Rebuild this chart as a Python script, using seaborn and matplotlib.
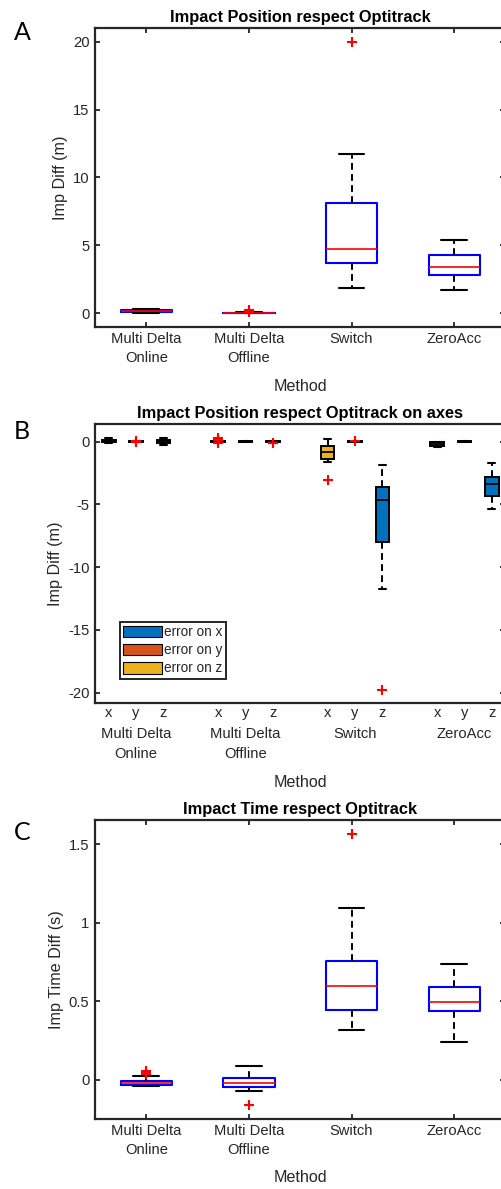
import numpy as np
import matplotlib
matplotlib.use("Agg")
import matplotlib.pyplot as plt
import matplotlib.patches as mpatches
from matplotlib.ticker import FuncFormatter
import seaborn as sns
import pandas as pd

# ---------------------------------------------------------------- data
methods = ["Multi Delta\nOnline", "Multi Delta\nOffline", "Switch", "ZeroAcc"]

# Impact position difference (m)
pos_whislo = [0.00, 0.00, 1.89, 1.74]
pos_q1 = [0.08, 0.00, 3.73, 2.85]
pos_med = [0.16, 0.03, 4.74, 3.41]
pos_q3 = [0.24, 0.06, 8.10, 4.30]
pos_whishi = [0.36, 0.08, 11.76, 5.38]
pos_fliers = [[], [0.12, 0.20, 0.28], [20.0], []]

# Impact position difference per axis (m), order x, y, z for each method
axis_names = ["x", "y", "z"]
axes_whislo = [-0.12, -0.01, -0.25, -0.02, -0.01, -0.02, -1.59, -0.01, -11.74, -0.45, -0.01, -5.34]
axes_q1 = [-0.03, 0.00, -0.10, 0.00, 0.00, 0.00, -1.40, 0.00, -7.99, -0.35, 0.00, -4.33]
axes_med = [0.05, 0.00, 0.00, 0.01, 0.00, 0.00, -0.80, 0.00, -4.65, -0.20, 0.00, -3.37]
axes_q3 = [0.12, 0.01, 0.10, 0.02, 0.01, 0.01, -0.32, 0.02, -3.63, -0.05, 0.01, -2.84]
axes_whishi = [0.30, 0.02, 0.25, 0.05, 0.02, 0.02, 0.19, 0.03, -1.86, 0.00, 0.02, -1.72]
axes_fliers = [[], [0.02, -0.03], [], [0.25, 0.10, -0.10], [], [-0.15],
               [-3.03], [0.05], [-19.8], [], [], []]

# Impact time difference (s)
time_whislo = [-0.040, -0.068, 0.318, 0.244]
time_q1 = [-0.030, -0.042, 0.445, 0.440]
time_med = [-0.017, -0.019, 0.596, 0.498]
time_q3 = [-0.004, 0.013, 0.755, 0.589]
time_whishi = [0.023, 0.087, 1.092, 0.740]
time_fliers = [[0.038, 0.048, 0.055], [-0.161], [1.564], []]

legend_labels = ["error on x", "error on y", "error on z"]

# ---------------------------------------------------------------- style
sns.set_theme(style="white")
plt.rcParams["font.family"] = ["Liberation Sans", "DejaVu Sans"]
plt.rcParams["axes.unicode_minus"] = False

TXT = "#262626"
BLUE = "#0000FF"
MBLUE, MORANGE, MYELLOW = "#0072BD", "#D95319", "#EDB120"
fill_cycle = [MYELLOW, MORANGE, MBLUE]  # fill per x / y / z box

TICK_FS = 10.6
LABEL_FS = 11.6
TITLE_FS = 11.8
LINESP = 1.5

W, H = 502, 1189
fig = plt.figure(figsize=(W / 100, H / 100), dpi=100)


def make_stats(lo, q1, med, q3, hi):
    return [dict(whislo=a, q1=b, med=c, q3=d, whishi=e, fliers=[])
            for a, b, c, d, e in zip(lo, q1, med, q3, hi)]


def ax_rect(top_px, bot_px, left_px=95, right_px=505.5):
    return [left_px / W, 1 - bot_px / H, (right_px - left_px) / W, (bot_px - top_px) / H]


def style_axes(ax, xticks_on=True):
    for s in ax.spines.values():
        s.set_color(TXT)
        s.set_linewidth(1.6)
    ax.tick_params(axis="y", direction="in", left=True, right=True, length=3.6,
                   width=1.3, color=TXT, labelcolor=TXT, labelsize=TICK_FS, pad=4)
    if xticks_on:
        ax.tick_params(axis="x", direction="in", bottom=True, top=True, length=3.6,
                       width=1.3, color=TXT, labelcolor=TXT, labelsize=TICK_FS, pad=3.5)
    else:
        ax.tick_params(axis="x", direction="in", bottom=False, top=False, length=0,
                       labelcolor=TXT, labelsize=TICK_FS, pad=2.5)
    ax.grid(False)


def set_labels(ax, ylabel, ylabel_x, xlabel_y):
    ax.set_ylabel(ylabel, fontsize=LABEL_FS, color=TXT)
    ax.yaxis.label.set_va("center")
    ax.yaxis.set_label_coords(ylabel_x, 0.5)
    ax.set_xlabel("Method", fontsize=LABEL_FS, color=TXT)
    ax.xaxis.label.set_va("center")
    ax.xaxis.set_label_coords(0.5, xlabel_y)


def draw_fliers(ax, positions, fliers):
    xs, ys = [], []
    for p, f in zip(positions, fliers):
        xs += [p] * len(f)
        ys += list(f)
    df = pd.DataFrame({"pos": xs, "val": ys})
    sns.scatterplot(data=df, x="pos", y="val", marker="+", color="red", s=48,
                    linewidth=1.5, ax=ax, zorder=5, legend=False)


dash = (0, (3.5, 2.2))


def simple_panel(ax, stats, fliers, title, ylabel, ylim, yticks, ylabel_x, xlabel_y):
    positions = np.arange(1, len(stats) + 1)
    ax.bxp(stats, positions=positions, widths=0.5, showfliers=False,
           boxprops=dict(color=BLUE, linewidth=1.5),
           medianprops=dict(color="red", linewidth=1.2),
           whiskerprops=dict(color="black", linewidth=1.4, linestyle=dash),
           capprops=dict(color="black", linewidth=1.5), capwidths=0.25)
    draw_fliers(ax, positions, fliers)
    ax.set_xlim(0.5, len(stats) + 0.5)
    ax.set_ylim(*ylim)
    ax.set_yticks(yticks)
    ax.yaxis.set_major_formatter(FuncFormatter(lambda v, _: f"{v:g}"))
    ax.set_xticks(positions)
    ax.set_xticklabels(methods, linespacing=LINESP)
    ax.set_title(title, fontsize=TITLE_FS, fontweight="bold", color="black", pad=4.5)
    set_labels(ax, ylabel, ylabel_x, xlabel_y)
    style_axes(ax)


# ---------------------------------------------------------------- panel A
axA = fig.add_axes(ax_rect(28, 327))
simple_panel(axA, make_stats(pos_whislo, pos_q1, pos_med, pos_q3, pos_whishi),
             pos_fliers, "Impact Position respect Optitrack", "Imp Diff (m)",
             (-1, 21), [0, 5, 10, 15, 20], -0.085, -0.20)

# ---------------------------------------------------------------- panel B
axB = fig.add_axes(ax_rect(424, 702.7))
posB = []
for g in range(len(methods)):
    posB += [4 * g + 1 + k for k in range(3)]
statsB = make_stats(axes_whislo, axes_q1, axes_med, axes_q3, axes_whishi)
bpB = axB.bxp(statsB, positions=posB, widths=0.5, showfliers=False, patch_artist=True,
              boxprops=dict(edgecolor="black", linewidth=1.4),
              medianprops=dict(color="black", linewidth=1.3),
              whiskerprops=dict(color="black", linewidth=1.4, linestyle=dash),
              capprops=dict(color="black", linewidth=1.5), capwidths=0.25)
for i, patch in enumerate(bpB["boxes"]):
    patch.set_facecolor(fill_cycle[i % 3])
draw_fliers(axB, posB, axes_fliers)
axB.set_xlim(0.5, posB[-1] + 0.5)
axB.set_ylim(-20.8, 1.4)
axB.set_yticks([-20, -15, -10, -5, 0])
axB.yaxis.set_major_formatter(FuncFormatter(lambda v, _: f"{v:g}"))
axB.set_xticks(posB)
axB.set_xticklabels(axis_names * len(methods))
for g, name in enumerate(methods):
    axB.annotate(name, xy=(4 * g + 2, 0), xycoords=axB.get_xaxis_transform(),
                 xytext=(0, -17.5), textcoords="offset points", ha="center", va="top",
                 fontsize=TICK_FS, color=TXT, linespacing=LINESP)
axB.set_title("Impact Position respect Optitrack on axes", fontsize=TITLE_FS,
              fontweight="bold", color="black", pad=4.5)
set_labels(axB, "Imp Diff (m)", -0.097, -0.288)
style_axes(axB, xticks_on=False)
handles = [mpatches.Patch(facecolor=c, edgecolor="black", linewidth=0.8)
           for c in [MBLUE, MORANGE, MYELLOW]]
leg = axB.legend(handles, legend_labels, loc="lower left",
                 bbox_to_anchor=(0.061, 0.086), borderaxespad=0, fontsize=9.8,
                 handlelength=2.8, handleheight=0.95, handletextpad=0.2,
                 labelspacing=0.3, borderpad=0.25, fancybox=False, framealpha=1)
leg.get_frame().set_edgecolor(TXT)
leg.get_frame().set_linewidth(1.4)
for t in leg.get_texts():
    t.set_color(TXT)

# ---------------------------------------------------------------- panel C
axC = fig.add_axes(ax_rect(820, 1119))
simple_panel(axC, make_stats(time_whislo, time_q1, time_med, time_q3, time_whishi),
             time_fliers, "Impact Time respect Optitrack", "Imp Time Diff (s)",
             (-0.248, 1.653), [0, 0.5, 1, 1.5], -0.095, -0.196)

# ---------------------------------------------------------------- panel letters
for letter, (px, py) in zip("ABC", [(22, 32), (22, 432), (22, 832)]):
    fig.text(px / W, 1 - py / H, letter, ha="center", va="center", fontsize=18,
             family=["Lato", "DejaVu Sans"], color="black")

fig.savefig("out.png", dpi=100)
